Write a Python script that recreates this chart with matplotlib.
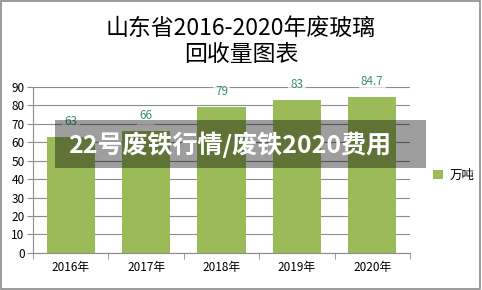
import matplotlib
matplotlib.use("Agg")
import matplotlib.pyplot as plt
from matplotlib.patches import Rectangle

plt.rcParams['font.family'] = ['Noto Sans CJK SC', 'DejaVu Sans']

years = ["2016年", "2017年", "2018年", "2019年", "2020年"]
values = [63, 66, 79, 83, 84.7]
labels = ["63", "66", "79", "83", "84.7"]
yticks = [0, 10, 20, 30, 40, 50, 60, 70, 80, 90]

title = "山东省2016-2020年废玻璃\n回收量图表"
banner = "22号废铁行情/废铁2020费用"
series_name = "万吨"

bar_color = "#9bbb59"
label_color = "#3d8f6e"
grid_color = "#8c8c8c"

fig = plt.figure(figsize=(4.82, 2.90), dpi=100)
ax = fig.add_axes([0.0685, 0.128, 0.782, 0.572])

x = list(range(len(years)))
bars = ax.bar(x, values, width=0.64, color=bar_color, zorder=2, label=series_name)

ax.set_xlim(-0.5, len(years) - 0.5)
ax.set_ylim(0, 90)
ax.set_yticks(yticks)
ax.yaxis.grid(True, color=grid_color, linewidth=0.8, zorder=0)
ax.set_axisbelow(True)

# category labels centred, tick marks at the boundaries
ax.set_xticks(x)
ax.set_xticklabels(years, fontsize=8.5)
ax.tick_params(axis="x", length=0, pad=6)
ax.set_xticks([i - 0.5 for i in range(len(years) + 1)], minor=True)
ax.tick_params(axis="x", which="minor", length=4, color=grid_color)
ax.tick_params(axis="y", labelsize=8.5, length=4, color=grid_color, pad=2)

for s in ["top", "right"]:
    ax.spines[s].set_visible(False)
for s in ["left", "bottom"]:
    ax.spines[s].set_color(grid_color)
    ax.spines[s].set_linewidth(0.8)

for b, lab in zip(bars, labels):
    ax.annotate(lab, xy=(b.get_x() + b.get_width() / 2, b.get_height()),
                xytext=(0, 11), textcoords="offset points", ha="center", va="center",
                fontsize=8.5, color=label_color, zorder=3,
                bbox=dict(boxstyle="square,pad=0.2", fc="white", ec="none", alpha=0.7))

fig.text(0.5, 0.857, title, ha="center", va="center", fontsize=16.5,
         fontweight="medium", linespacing=1.15, color="#000000")

leg = fig.legend(handles=[bars], labels=[series_name], loc="center left",
                 bbox_to_anchor=(0.875, 0.395), frameon=False, fontsize=9,
                 handlelength=0.8, handleheight=0.8, handletextpad=0.5)

# semi-transparent banner overlay
fig.patches.append(Rectangle((55 / 482, 1 - 168 / 290), (426 - 55) / 482, 48 / 290,
                             transform=fig.transFigure, facecolor="black", alpha=0.38,
                             edgecolor="none", zorder=5))
fig.text(230 / 482, 1 - 145 / 290, banner, ha="center", va="center", fontsize=18,
         fontweight="bold", color="white", zorder=6)

# outer frame
fig.patches.append(Rectangle((0.003, 0.005), 0.993, 0.99, transform=fig.transFigure,
                             facecolor="none", edgecolor="#8a8a8a", linewidth=1.2, zorder=7))

fig.savefig("out.png", dpi=100)
